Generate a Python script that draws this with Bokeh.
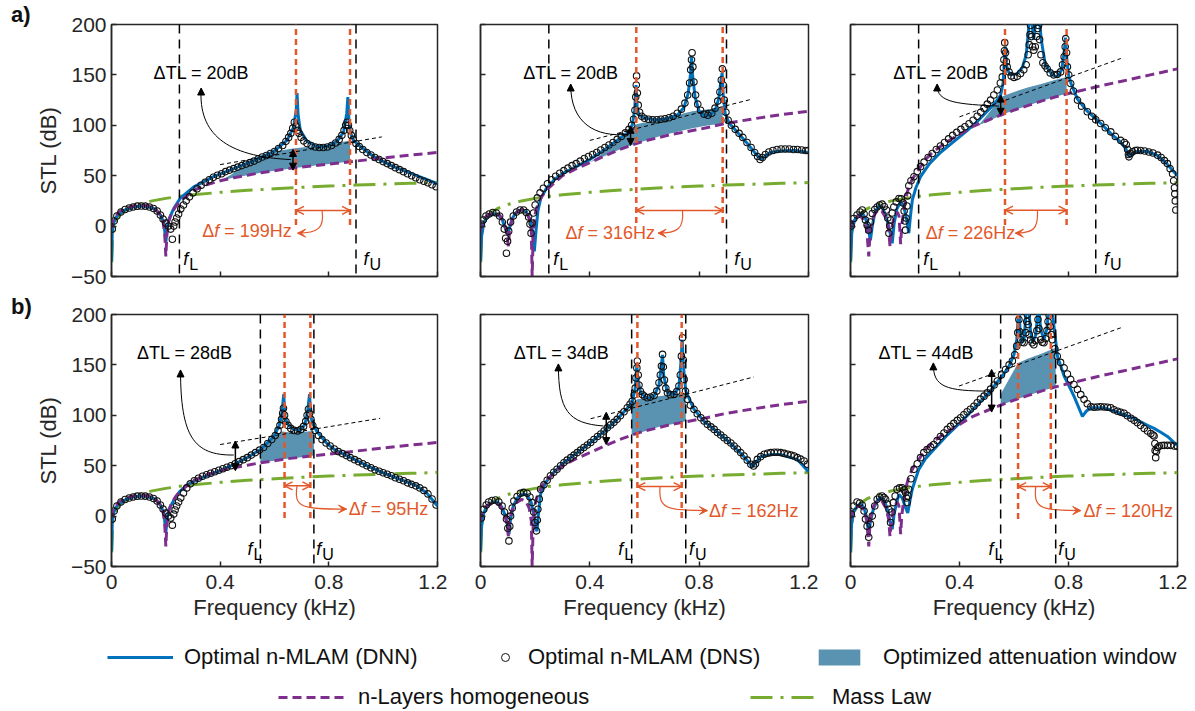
from bokeh.plotting import figure
from bokeh.layouts import column, row
from bokeh.models import (Range1d, FixedTicker, NumeralTickFormatter, Label, Arrow, Div,
                          NormalHead, OpenHead, VeeHead, Span, Legend, LegendItem)
from bokeh.embed import file_html
from bokeh.resources import INLINE

# ---------------------------------------------------------------- data
X_TICKS = [0, 0.4, 0.8, 1.2]
Y_TICKS = [-50, 0, 50, 100, 150, 200]

# mass law (shared by all panels)
MASS_LAW = [(0.001,-36),(0.004,-8),(0.008,-1),(0.015,5),(0.025,9.5),(0.04,13.5),(0.06,17),(0.08,19.5),
            (0.1,21.5),(0.15,25),(0.2,27.5),(0.25,29.5),(0.3,31),(0.4,33.5),(0.5,35.5),(0.6,37),(0.7,38.5),
            (0.8,39.7),(0.9,40.7),(1.0,41.6),(1.1,42.4),(1.2,43.2)]

# n-layers homogeneous (column 1, 2, 3)
HOMOG_1 = [(0.0,-2),(0.005,5),(0.015,10),(0.03,14.5),(0.05,17.5),(0.08,20),(0.11,21),(0.14,20),(0.16,17.5),
           (0.18,11),(0.19,4),(0.196,-8),(0.2,-30),(0.204,-8),(0.21,4),(0.22,12),(0.235,19),(0.25,24),(0.3,35),
           (0.35,41),(0.4,45),(0.45,48),(0.5,50.5),(0.55,53),(0.6,55),(0.65,57),(0.7,58.5),(0.8,61.5),(0.9,64.5),
           (1.0,67.5),(1.1,70.5),(1.2,73)]
HOMOG_2 = [(0.0,-5),(0.005,3),(0.015,8),(0.03,11.5),(0.05,13),(0.07,11),(0.085,4),(0.095,-5),(0.102,-20),
           (0.106,-5),(0.115,6),(0.13,13),(0.15,16.5),(0.165,15),(0.178,8),(0.186,-5),(0.189,-50),(0.193,-5),
           (0.2,12),(0.21,22),(0.225,30),(0.25,38),(0.3,50),(0.35,57),(0.4,63),(0.45,69),(0.5,75),(0.55,80),
           (0.6,84.5),(0.7,91),(0.8,96),(0.9,102),(1.0,106.5),(1.1,110.5),(1.2,114)]
HOMOG_3 = [(0.0,-3),(0.008,5),(0.02,9),(0.035,10),(0.05,6),(0.06,-5),(0.067,-30),(0.072,-5),(0.085,10),
           (0.1,16),(0.115,15),(0.13,8),(0.14,-3),(0.145,-20),(0.15,-5),(0.16,10),(0.172,14),(0.178,10),
           (0.184,-18),(0.188,0),(0.195,15),(0.205,30),(0.215,40),(0.23,48),(0.25,56),(0.275,66),(0.3,73),
           (0.35,83),(0.4,91),(0.45,99),(0.5,104.5),(0.55,110),(0.6,115),(0.65,119.5),(0.7,124),(0.75,128),
           (0.8,131.5),(0.9,138),(1.0,144),(1.1,150),(1.2,156)]

# optimal n-MLAM (DNN) lines
DNN_A1 = [(0.0,-35),(0.003,-5),(0.01,5),(0.02,10),(0.045,15.5),(0.08,19),(0.107,20),(0.13,19.5),(0.156,17.5),
          (0.18,11),(0.193,3),(0.2,-16),(0.205,-3),(0.21,6),(0.23,18),(0.254,28),(0.303,39),(0.376,49),(0.45,57),
          (0.523,65),(0.597,74),(0.646,85),(0.67,98),(0.68,115),(0.683,132),(0.687,110),(0.695,95),(0.72,84),
          (0.756,79),(0.793,79),(0.83,84),(0.854,93),(0.866,112),(0.870,128),(0.874,105),(0.879,93),(0.891,85),
          (0.916,79),(0.965,69),(1.038,59),(1.124,50),(1.2,42)]
DNN_A2 = [(0.0,-35),(0.004,-10),(0.012,3),(0.025,9),(0.045,12.5),(0.065,11.5),(0.08,6),(0.092,-3),(0.1,-8),
          (0.106,-2),(0.115,7),(0.13,13.5),(0.15,16.5),(0.168,14),(0.18,7),(0.19,-5),(0.197,-25),(0.203,-5),
          (0.21,15),(0.22,27),(0.24,37),(0.27,46),(0.3,52),(0.35,59),(0.4,66),(0.45,75),(0.5,85),(0.54,93),
          (0.555,100),(0.564,115),(0.569,140),(0.573,118),(0.58,110),(0.6,107),(0.64,105.5),(0.68,106.5),
          (0.72,110),(0.745,118),(0.76,132),(0.768,150),(0.772,168),(0.776,150),(0.785,128),(0.8,114),(0.82,109),
          (0.84,110),(0.86,116),(0.872,127),(0.88,145),(0.884,152),(0.888,130),(0.895,112),(0.91,102),(0.94,93),
          (0.97,84),(1.0,74),(1.025,66),(1.04,69),(1.06,73),(1.1,74.5),(1.15,75),(1.2,73)]
DNN_A3 = [(0.0,-35),(0.005,-5),(0.015,6),(0.03,11),(0.044,12.5),(0.055,8),(0.065,-2),(0.073,-14),(0.08,0),
          (0.09,14),(0.104,20.5),(0.118,18),(0.13,10),(0.142,-2),(0.153,-17),(0.16,2),(0.17,17),(0.184,24),
          (0.195,20),(0.205,8),(0.214,-7),(0.22,10),(0.227,26),(0.24,38),(0.257,49),(0.29,62),(0.33,73),(0.38,84),
          (0.429,95),(0.47,105),(0.502,114),(0.53,122),(0.551,130),(0.56,142),(0.565,165),(0.568,178),(0.572,160),
          (0.58,153),(0.59,150),(0.61,151),(0.63,157),(0.645,170),(0.655,200),(0.662,215),(0.672,185),(0.68,205),
          (0.69,215),(0.70,185),(0.715,160),(0.74,150),(0.76,148),(0.775,155),(0.785,175),(0.789,187),(0.794,165),
          (0.8,150),(0.81,141),(0.833,126),(0.869,114),(0.918,102),(0.955,92),(0.992,83),(1.01,77),(1.022,69),
          (1.035,72),(1.053,74),(1.09,74),(1.127,70),(1.16,62),(1.18,56),(1.2,50)]
DNN_B1 = [(0.0,-35),(0.003,-5),(0.01,5),(0.02,10),(0.045,15.5),(0.08,19),(0.107,20),(0.13,19.5),(0.156,17.5),
          (0.18,11),(0.193,3),(0.2,-16),(0.205,-3),(0.21,6),(0.23,16),(0.25,24),(0.278,31),(0.33,38),(0.389,44),
          (0.45,51),(0.5,58),(0.548,66),(0.597,79),(0.618,90),(0.628,104),(0.634,121),(0.638,100),(0.646,92),
          (0.67,86),(0.695,85),(0.712,91),(0.722,104),(0.729,121),(0.733,100),(0.74,92),(0.756,84),(0.79,73),
          (0.818,66.5),(0.88,58),(0.94,50),(1.0,43),(1.063,36.5),(1.124,30),(1.16,23),(1.2,10)]
DNN_B2 = [(0.0,-35),(0.004,-10),(0.012,3),(0.025,10),(0.045,14),(0.062,14),(0.078,9),(0.09,1),(0.098,-8),
          (0.104,-18),(0.11,-3),(0.12,10),(0.135,18),(0.155,22),(0.17,21),(0.185,14),(0.195,2),(0.202,-12),
          (0.207,-15),(0.212,2),(0.22,22),(0.24,34),(0.27,44),(0.305,53),(0.354,63),(0.403,73),(0.452,84),
          (0.5,96),(0.537,107),(0.555,113),(0.566,127),(0.572,150),(0.576,135),(0.586,122),(0.61,117),
          (0.635,119),(0.653,130),(0.662,150),(0.666,160),(0.67,140),(0.684,122),(0.708,120.5),(0.726,128),
          (0.734,155),(0.738,175),(0.742,150),(0.751,124),(0.781,106),(0.818,94),(0.855,86),(0.916,72),
          (0.964,59),(0.995,49),(1.025,59),(1.06,61),(1.099,61),(1.16,56),(1.2,44)]
DNN_B3 = [(0.0,-36),(0.004,-8),(0.012,5),(0.025,10),(0.037,12),(0.05,8),(0.06,-2),(0.067,-20),(0.073,-5),
          (0.085,8),(0.1,16),(0.11,18.5),(0.125,15),(0.137,5),(0.147,-8),(0.153,-13),(0.16,2),(0.17,14),
          (0.178,21.5),(0.19,18),(0.2,10),(0.21,3),(0.218,15),(0.227,27),(0.25,46),(0.275,57),(0.306,66),
          (0.35,79),(0.392,90),(0.43,100),(0.478,114),(0.51,123),(0.539,133),(0.565,142),(0.582,149),(0.6,160),
          (0.61,175),(0.615,195),(0.618,210),(0.622,185),(0.628,172),(0.637,175),(0.645,205),(0.652,215),
          (0.66,185),(0.668,172),(0.68,180),(0.69,210),(0.698,185),(0.71,175),(0.72,185),(0.73,210),(0.74,205),
          (0.748,185),(0.76,158),(0.784,139),(0.82,119),(0.851,99),(0.865,104),(0.882,107.5),(0.93,107.5),
          (0.98,103),(1.04,97),(1.09,90),(1.114,87),(1.14,83),(1.163,79),(1.2,70)]

# optimal n-MLAM (DNS) circles
DNS_A1 = [(0.003,-3),(0.01,5),(0.02,10),(0.035,14),(0.05,16.5),(0.065,18),(0.08,19),(0.095,19.8),(0.11,20),
          (0.125,19.8),(0.14,19),(0.155,17.5),(0.168,15),(0.18,11),(0.19,7),(0.2,3),(0.21,0),(0.218,-3),
          (0.224,-13),(0.229,0),(0.234,4),(0.24,8),(0.247,12),(0.255,17),(0.265,21),(0.275,25),(0.287,29),
          (0.3,33),(0.315,37),(0.33,40.5),(0.345,43.5),(0.36,46),(0.375,48.5),(0.39,50.5),(0.405,52),(0.42,54),
          (0.435,55.5),(0.45,57),(0.465,58.5),(0.48,60),(0.495,61.5),(0.51,63),(0.525,64.5),(0.54,66.5),
          (0.555,68.5),(0.57,70),(0.585,72),(0.6,74),(0.615,77),(0.63,80),(0.642,84),(0.652,88),(0.66,92),
          (0.667,97),(0.673,103),(0.679,99),(0.685,95),(0.69,92),(0.698,88),(0.708,84.5),(0.72,82),(0.735,80),
          (0.75,78.5),(0.765,78),(0.78,78),(0.795,78.5),(0.81,80),(0.825,82.5),(0.838,86),(0.848,90),(0.856,95),
          (0.862,100),(0.867,103),(0.872,100),(0.877,95),(0.883,90),(0.89,86),(0.9,82),(0.912,79),(0.925,76),
          (0.94,73),(0.955,70.5),(0.97,68),(0.985,66),(1.0,64),(1.015,62),(1.03,60),(1.045,58),(1.06,56),
          (1.075,54),(1.09,52),(1.105,50),(1.12,48),(1.135,46),(1.15,44.5),(1.165,43),(1.18,41),(1.195,39)]
DNS_A2 = [(0.003,2),(0.01,6),(0.02,10),(0.032,12),(0.045,13.5),(0.058,13),(0.07,10),(0.08,4),(0.087,-3),
          (0.092,-12),(0.095,-27),(0.099,-15),(0.103,-5),(0.11,4),(0.12,10),(0.132,14),(0.145,16),(0.158,16),
          (0.168,13.5),(0.176,9),(0.181,2),(0.185,-7),(0.189,3),(0.194,13),(0.2,21),(0.208,28),(0.218,33),
          (0.23,37.5),(0.245,42),(0.26,46),(0.275,49.5),(0.29,52.5),(0.305,55),(0.32,57.5),(0.335,60),
          (0.35,62),(0.365,64.5),(0.38,67),(0.395,69),(0.41,71),(0.425,73),(0.44,75.5),(0.455,78),(0.47,80.5),
          (0.485,83),(0.5,86),(0.515,89),(0.53,92.5),(0.543,96),(0.553,100),(0.56,106),(0.565,115),(0.568,128),
          (0.57,140),(0.571,149),(0.574,132),(0.577,120),(0.582,113),(0.59,109),(0.6,107),(0.615,106),
          (0.63,105.5),(0.645,105.5),(0.66,106),(0.675,106.5),(0.69,107.5),(0.705,109),(0.72,112),(0.735,116),
          (0.748,122),(0.758,130),(0.765,142),(0.769,155),(0.772,165),(0.774,172),(0.777,158),(0.781,143),
          (0.787,130),(0.795,121),(0.805,115),(0.818,111),(0.832,110),(0.846,112),(0.858,117),(0.868,124),
          (0.876,133),(0.881,145),(0.885,156),(0.888,140),(0.892,125),(0.898,113),(0.906,105),(0.918,100),
          (0.932,96),(0.946,92),(0.96,88),(0.975,83),(0.99,78),(1.003,73),(1.014,69),(1.023,66),(1.032,68),
          (1.042,71),(1.055,73.5),(1.07,75),(1.085,76),(1.1,76.5),(1.115,76.5),(1.13,76.5),(1.145,76),
          (1.16,76),(1.175,75.5),(1.19,75),(1.2,75)]
DNS_A3 = [(0.003,0),(0.012,7.5),(0.024,11),(0.035,14),(0.043,16),(0.05,12),(0.055,6),(0.061,1),(0.067,-4),
          (0.073,4),(0.08,12.5),(0.089,16.5),(0.098,19),(0.107,21),(0.116,21.8),(0.124,19.5),(0.132,16),
          (0.137,8),(0.141,-7),(0.144,0),(0.147,6),(0.153,13),(0.159,19),(0.168,24),(0.178,27.4),(0.186,27),
          (0.193,23),(0.197,15),(0.2,5),(0.202,-4),(0.204,8),(0.207,20),(0.21,30),(0.214,40),(0.222,45),
          (0.233,49),(0.245,54),(0.257,59),(0.27,63.5),(0.285,68),(0.3,72),(0.315,76),(0.33,79.5),(0.345,83),
          (0.36,86.5),(0.375,90),(0.39,93),(0.405,96),(0.42,98.5),(0.435,101.5),(0.45,105),(0.465,109),
          (0.478,113),(0.49,117),(0.502,121),(0.514,125),(0.526,130),(0.539,135),(0.55,142),(0.557,148),
          (0.561,157),(0.563,165),(0.565,174),(0.566,182),(0.569,172),(0.572,163),(0.575,158),(0.582,153),
          (0.59,149),(0.6,147.5),(0.612,148.5),(0.624,151.4),(0.636,155),(0.645,160),(0.652,170),(0.656,180),
          (0.659,190),(0.661,199),(0.664,188),(0.668,178),(0.673,174.5),(0.678,178),(0.683,188),(0.687,196),
          (0.69,199),(0.694,185),(0.699,170),(0.706,162),(0.714,159),(0.722,156),(0.733,152),(0.747,150),
          (0.76,150.5),(0.771,153),(0.778,160),(0.784,168),(0.788,178),(0.79,186),(0.793,172),(0.796,158),
          (0.801,150),(0.808,141.5),(0.818,134),(0.833,125),(0.848,119),(0.869,113.4),(0.885,109),(0.9,105.5),
          (0.918,101.8),(0.935,97.5),(0.955,93.5),(0.972,89),(0.992,85),(1.005,83),(1.012,81),(1.017,76),
          (1.02,71),(1.022,68.7),(1.028,72),(1.035,73.7),(1.045,75),(1.053,75.3),(1.065,75),(1.08,74.5),
          (1.095,73.5),(1.11,72.5),(1.127,70.4),(1.14,68),(1.152,65),(1.163,62),(1.173,57),(1.182,52),
          (1.186,45),(1.189,38),(1.19,32),(1.192,25),(1.194,16)]
DNS_B1 = [(0.003,-3),(0.01,5),(0.02,10),(0.035,14),(0.05,16.5),(0.065,18),(0.08,19),(0.095,19.8),(0.11,20),
          (0.125,19.8),(0.14,19),(0.155,17.5),(0.168,15),(0.18,11),(0.19,7),(0.2,3),(0.21,0),(0.218,-2),
          (0.224,-9),(0.229,2),(0.234,6),(0.24,10),(0.247,14),(0.255,18),(0.265,23),(0.277,28),(0.29,32),
          (0.305,35),(0.32,37.5),(0.335,39.5),(0.35,41),(0.365,42.5),(0.38,44),(0.395,45.5),(0.41,47),
          (0.425,48.5),(0.44,50),(0.455,52),(0.47,54),(0.485,56),(0.5,58),(0.515,60.5),(0.53,63),(0.545,65.5),
          (0.56,68),(0.575,72),(0.59,76),(0.603,80),(0.613,85),(0.62,90),(0.626,96),(0.63,102),(0.633,107),
          (0.637,100),(0.642,94),(0.65,90),(0.66,87),(0.672,85),(0.685,84.5),(0.697,86),(0.707,89),(0.715,94),
          (0.72,100),(0.725,106),(0.729,102),(0.734,96),(0.741,90),(0.75,85),(0.762,80),(0.775,76),(0.79,72.5),
          (0.805,69.5),(0.82,66.5),(0.835,64),(0.85,62),(0.865,60),(0.88,58),(0.895,56),(0.91,54),(0.925,52),
          (0.94,50),(0.955,48),(0.97,46),(0.985,44.5),(1.0,43),(1.015,41.5),(1.03,40),(1.045,38),(1.06,36.5),
          (1.075,35),(1.09,33),(1.105,31.5),(1.12,30),(1.135,28),(1.15,25.5),(1.165,22),(1.18,17),(1.195,11)]
DNS_B2 = [(0.003,-2),(0.012,6.8),(0.021,11),(0.03,14),(0.042,15.5),(0.055,16),(0.067,14),(0.079,10),(0.088,4),
          (0.095,-3),(0.1,-12),(0.104,-24.6),(0.107,-10),(0.11,0),(0.116,8),(0.122,15),(0.134,19.5),
          (0.146,22.6),(0.158,23.5),(0.171,22.6),(0.181,19),(0.189,13.4),(0.195,4),(0.199,-6.4),(0.205,-14.7),
          (0.208,-4),(0.21,6.8),(0.215,17),(0.22,26.6),(0.232,31),(0.244,35.5),(0.256,40),(0.268,43.5),
          (0.28,46.5),(0.293,50),(0.305,53),(0.317,55.5),(0.33,58),(0.342,60.5),(0.354,63),(0.366,65.5),
          (0.378,68),(0.391,70.5),(0.403,73),(0.415,76),(0.428,79),(0.44,81.5),(0.452,84.4),(0.464,87.5),
          (0.476,90.5),(0.488,93),(0.5,96),(0.512,99.5),(0.525,103.5),(0.537,107.5),(0.547,111),(0.555,114),
          (0.562,120),(0.566,127),(0.569,137),(0.572,147),(0.574,153.8),(0.577,140),(0.58,130),(0.585,124),
          (0.592,120.7),(0.6,119),(0.61,117.4),(0.622,118),(0.635,119.7),(0.645,124),(0.653,132.3),(0.658,140),
          (0.662,148.8),(0.666,160.4),(0.669,148),(0.673,135),(0.678,127),(0.684,122.4),(0.695,120.5),
          (0.708,120.7),(0.718,123.5),(0.726,129),(0.731,140),(0.735,158.7),(0.739,176.9),(0.742,155),
          (0.745,135.6),(0.75,124),(0.757,115.8),(0.768,110),(0.781,105.9),(0.793,101.5),(0.806,97.5),
          (0.818,94.3),(0.83,91),(0.843,88.5),(0.855,86),(0.867,83),(0.879,80.5),(0.891,77.8),(0.903,75),
          (0.916,72.5),(0.928,69.6),(0.94,66.5),(0.952,63),(0.964,59.6),(0.976,55.5),(0.989,51.4),(0.999,49.7),
          (1.006,52),(1.013,56.3),(1.025,59),(1.038,61.3),(1.05,62.3),(1.062,63),(1.075,63.3),(1.087,63.3),
          (1.099,63),(1.111,62.2),(1.124,61.3),(1.136,60.5),(1.148,59.6),(1.16,58),(1.172,56.5),(1.184,54.7),
          (1.196,51.4)]
DNS_B3 = [(0.003,2),(0.012,10),(0.024,14),(0.034,13),(0.043,10.8),(0.05,5),(0.055,-3),(0.061,-10),(0.067,-21),
          (0.073,-8),(0.08,0),(0.089,10),(0.098,16.7),(0.107,19),(0.116,20),(0.123,18.5),(0.129,16.7),
          (0.135,12),(0.141,6.8),(0.147,-6.4),(0.152,4),(0.157,13.4),(0.164,20),(0.171,26.6),(0.18,28),
          (0.19,28),(0.197,26),(0.202,23.3),(0.205,18),(0.208,13.4),(0.211,20),(0.214,26.6),(0.222,37),
          (0.233,46.4),(0.245,52),(0.257,58),(0.269,63),(0.281,66),(0.294,68.5),(0.306,71),(0.318,75),
          (0.33,79),(0.343,82.5),(0.355,86),(0.367,89),(0.379,92),(0.392,95),(0.404,97.6),(0.416,100.5),
          (0.428,103.5),(0.44,106),(0.453,109),(0.465,112.5),(0.477,116),(0.49,119),(0.502,122.4),(0.514,126),
          (0.527,130),(0.539,134),(0.554,140),(0.569,145.5),(0.582,150),(0.594,153.8),(0.603,160),(0.61,168.6),
          (0.614,182),(0.618,195),(0.621,183),(0.624,175),(0.63,172.5),(0.637,172),(0.643,182),(0.647,193),
          (0.649,200),(0.652,190),(0.656,180),(0.661,175),(0.667,172),(0.673,170),(0.679,174),(0.684,184),
          (0.688,195),(0.692,186),(0.698,175),(0.704,172.5),(0.71,172),(0.716,176),(0.721,184),(0.725,193),
          (0.729,199),(0.733,188),(0.737,180),(0.741,175),(0.75,166),(0.759,158.7),(0.771,152.5),(0.784,147),
          (0.796,141),(0.808,135.6),(0.82,130.5),(0.833,125.7),(0.845,120.5),(0.857,115.8),(0.869,111.5),
          (0.882,108.5),(0.894,108),(0.906,108.3),(0.918,108.5),(0.931,108.3),(0.943,108),(0.955,107.5),
          (0.967,105.5),(0.98,104),(0.992,103),(1.004,102),(1.016,99.5),(1.029,97),(1.041,95),(1.053,92.7),
          (1.065,90),(1.078,87),(1.09,84.4),(1.102,82),(1.11,80.5),(1.114,79.5),(1.117,72),(1.118,65),
          (1.12,58),(1.123,64),(1.127,68),(1.133,69.6),(1.142,70),(1.151,70.2),(1.163,70.2),(1.175,70.2),
          (1.188,69.6),(1.2,69)]

# optimized attenuation window: (frequency, lower STL, upper STL)
WIN_A1 = [(0.40,45,45),(0.44,47.5,51),(0.47,49,57),(0.52,51.5,64),(0.56,53.5,69),(0.6,55,74),(0.668,57.5,77),
          (0.75,60,79.5),(0.8,61.5,81),(0.878,64,85)]
WIN_A2 = [(0.40,63,63),(0.45,69,73),(0.5,75,82),(0.549,80,95),(0.57,82,101),(0.67,90.5,107),(0.775,97,114),
          (0.835,100,116),(0.886,101.5,118)]
WIN_A3 = [(0.47,100,100),(0.51,104.5,113),(0.551,110,128),(0.6,115,133),(0.65,119.5,137.5),(0.7,124,141),
          (0.75,128,145),(0.793,131.5,148)]
WIN_B1 = [(0.548,53,68),(0.57,54,73),(0.6,55,80),(0.63,56.5,84),(0.66,57.5,83),(0.7,58.5,83.5),(0.745,60,84.5)]
WIN_B2 = [(0.553,80.5,112),(0.574,82,116),(0.61,85,117.5),(0.65,88.5,119),(0.7,91,120.5),(0.751,94,122)]
WIN_B3 = [(0.551,110,121),(0.58,113,135),(0.615,116.5,152),(0.65,119.5,156),(0.7,124,161),(0.753,128,167)]

# window limits and annotation values, panels a1 a2 a3 b1 b2 b3
F_LOWER = [0.25, 0.25, 0.25, 0.548, 0.553, 0.551]
F_UPPER = [0.90, 0.90, 0.90, 0.745, 0.751, 0.753]
F_OPT_LO = [0.679, 0.570, 0.567, 0.637, 0.574, 0.615]
F_OPT_HI = [0.878, 0.886, 0.793, 0.732, 0.736, 0.735]
DELTA_TL = ["ΔTL = 20dB", "ΔTL = 20dB", "ΔTL = 20dB", "ΔTL = 28dB", "ΔTL = 34dB", "ΔTL = 44dB"]
DELTA_F = ["= 199Hz", "= 316Hz", "= 226Hz", "= 95Hz", "= 162Hz", "= 120Hz"]

# ---------------------------------------------------------------- layout / style
FONT = "Liberation Sans"
INK = "#262626"
BLUE = "#0072BD"
PURPLE = "#7E2F8E"
GREEN = "#77AC30"
ORANGE = "#E2582A"
SHADE = "#5A93B2"

ORANGE_BOTTOM = [1, 3, 1, -2, -2, -3]
DF_ARROW_Y = [15.6, 15.6, 15.8, 30, 29.3, 29.3]
DTL_POS = [(0.155, 152), (0.156, 152), (0.157, 151.5), (0.094, 161.4), (0.122, 161.4), (0.103, 161.4)]
DF_POS = [(0.334, -5), (0.311, -7), (0.276, -7), (0.873, 7), (0.836, 5), (0.855, 5)]
TANGENT = [(0.40, 61, 0.995, 88.5), (0.40, 85, 0.994, 126), (0.40, 108.4, 0.992, 166.3),
           (0.40, 71, 0.989, 97), (0.403, 96.6, 1.0, 138), (0.398, 129, 0.992, 186.8)]
VARROW = [(0.668, 55.5, 76), (0.549, 80, 99), (0.551, 110, 130), (0.456, 45, 74.5), (0.46, 71, 103),
          (0.518, 103.2, 145.5)]
BLACK_CURVE = [(0.66, 66, 0.42, 69, 0.32, 92, 0.33, 136), (0.54, 91, 0.42, 88, 0.33, 102, 0.33, 140),
               (0.545, 119, 0.40, 121, 0.315, 122, 0.318, 140), (0.45, 60.6, 0.30, 60, 0.255, 80, 0.254, 144),
               (0.45, 89.4, 0.32, 92, 0.285, 105, 0.285, 150), (0.514, 124, 0.35, 124, 0.303, 128, 0.304, 151)]
ORANGE_CURVE = [(0.775, 15.6, 0.785, -2, 0.76, -7, 0.685, -7), (0.739, 15.6, 0.745, -3, 0.72, -7, 0.65, -7),
                (0.686, 15.8, 0.69, -3, 0.67, -7, 0.605, -7), (0.683, 30, 0.67, 8, 0.70, 7, 0.865, 7),
                (0.657, 29.3, 0.65, 7, 0.68, 5.5, 0.83, 5.5), (0.68, 29.3, 0.67, 7, 0.70, 5.5, 0.845, 5.5)]
FL_LAB = [0.264, 0.266, 0.267, 0.501, 0.504, 0.506]
FU_LAB = [0.928, 0.928, 0.93, 0.754, 0.763, 0.762]
SUB_Y = -33

DNN = [DNN_A1, DNN_A2, DNN_A3, DNN_B1, DNN_B2, DNN_B3]
DNS = [DNS_A1, DNS_A2, DNS_A3, DNS_B1, DNS_B2, DNS_B3]
HOMOG = [HOMOG_1, HOMOG_2, HOMOG_3, HOMOG_1, HOMOG_2, HOMOG_3]
WIN = [WIN_A1, WIN_A2, WIN_A3, WIN_B1, WIN_B2, WIN_B3]

FRAME_W = [326, 328, 327]
BORDER_L = [79, 33, 32]
BORDER_R = 10
TAG_W = 32


def cols(pts, k):
    return [p[k] for p in pts]


def style_axis(ax, ticks, show_labels, standoff):
    ax.axis_line_color = INK
    ax.axis_line_width = 1.5
    ax.major_tick_in = 5
    ax.major_tick_out = 0
    ax.major_tick_line_color = INK
    ax.major_tick_line_width = 1.5
    ax.minor_tick_line_color = None
    ax.major_label_text_font = FONT
    ax.major_label_text_color = INK
    ax.major_label_text_font_size = "21px"
    ax.axis_label_text_font = FONT
    ax.axis_label_text_font_size = "22px"
    ax.axis_label_text_font_style = "normal"
    ax.axis_label_text_color = INK
    if show_labels:
        ax.major_label_standoff = standoff
    else:
        ax.major_label_overrides = {t: "" for t in ticks}
        ax.major_label_standoff = 0


def make_panel(i, col, top, bottom):
    p = figure(frame_width=FRAME_W[col], frame_height=252,
               x_range=Range1d(0, 1.2), y_range=Range1d(-50, 200),
               output_backend="svg", toolbar_location=None,
               min_border_left=BORDER_L[col], min_border_right=BORDER_R,
               min_border_top=top, min_border_bottom=bottom,
               background_fill_color="white", border_fill_color="white")
    p.grid.visible = False
    p.outline_line_color = INK
    p.outline_line_width = 1.5
    p.xaxis.ticker = FixedTicker(ticks=X_TICKS)
    p.yaxis.ticker = FixedTicker(ticks=Y_TICKS)
    p.xaxis.formatter = NumeralTickFormatter(format="0.[0]")
    bottom_row = i >= 3
    style_axis(p.xaxis[0], X_TICKS, bottom_row, 8)
    style_axis(p.yaxis[0], Y_TICKS, col == 0, 5)
    if col == 0:
        p.yaxis.axis_label = "STL (dB)"
        p.yaxis.axis_label_standoff = 7
    if bottom_row:
        p.xaxis.axis_label = "Frequency (kHz)"
        p.xaxis.axis_label_standoff = 3

    w = WIN[i]
    p.varea(x=cols(w, 0), y1=cols(w, 1), y2=cols(w, 2), fill_color=SHADE, fill_alpha=1.0)
    p.line(cols(MASS_LAW, 0), cols(MASS_LAW, 1), line_color=GREEN, line_width=3, line_dash="22 8 3 8")
    p.line(cols(DNN[i], 0), cols(DNN[i], 1), line_color=BLUE, line_width=3)
    p.line(cols(HOMOG[i], 0), cols(HOMOG[i], 1), line_color=PURPLE, line_width=3, line_dash="9 5")
    p.scatter(cols(DNS[i], 0), cols(DNS[i], 1), marker="circle", size=6.5,
              line_color="#111111", line_width=1.1, fill_color=None)

    for f in (F_LOWER[i], F_UPPER[i]):
        p.add_layout(Span(location=f, dimension="height", line_color="black",
                          line_width=1.5, line_dash="9 6"))
    ob = ORANGE_BOTTOM[i]
    p.segment(x0=[F_OPT_LO[i], F_OPT_HI[i]], y0=[ob, ob], x1=[F_OPT_LO[i], F_OPT_HI[i]], y1=[200, 200],
              line_color=ORANGE, line_width=2.5, line_dash="6 4")
    t = TANGENT[i]
    p.segment(x0=[t[0]], y0=[t[1]], x1=[t[2]], y1=[t[3]], line_color="black", line_width=1, line_dash="4 3")
    v = VARROW[i]
    p.add_layout(Arrow(start=NormalHead(size=7, fill_color="black", line_color="black"),
                       end=NormalHead(size=7, fill_color="black", line_color="black"),
                       x_start=v[0], y_start=v[1], x_end=v[0], y_end=v[2],
                       line_color="black", line_width=1.5))
    c = BLACK_CURVE[i]
    p.bezier(x0=[c[0]], y0=[c[1]], cx0=[c[2]], cy0=[c[3]], cx1=[c[4]], cy1=[c[5]], x1=[c[6]], y1=[c[7]],
             line_color="black", line_width=1)
    p.add_layout(Arrow(end=NormalHead(size=7, fill_color="black", line_color="black"),
                       x_start=c[6], y_start=c[7] - 4, x_end=c[6], y_end=c[7] + 1,
                       line_color="black", line_width=1))
    ya = DF_ARROW_Y[i]
    p.add_layout(Arrow(start=OpenHead(size=8, line_color=ORANGE, line_width=1.5),
                       end=OpenHead(size=8, line_color=ORANGE, line_width=1.5),
                       x_start=F_OPT_LO[i], y_start=ya, x_end=F_OPT_HI[i], y_end=ya,
                       line_color=ORANGE, line_width=1.5))
    o = ORANGE_CURVE[i]
    p.bezier(x0=[o[0]], y0=[o[1]], cx0=[o[2]], cy0=[o[3]], cx1=[o[4]], cy1=[o[5]], x1=[o[6]], y1=[o[7]],
             line_color=ORANGE, line_width=1.2)
    dx = 0.015 if o[6] < o[0] else -0.015
    p.add_layout(Arrow(end=VeeHead(size=8, fill_color=ORANGE, line_color=ORANGE),
                       x_start=o[6] + dx, y_start=o[7], x_end=o[6], y_end=o[7],
                       line_color=ORANGE, line_width=1.2))

    tx, ty = DTL_POS[i]
    p.add_layout(Label(x=tx, y=ty, text=DELTA_TL[i], text_font=FONT, text_font_size="18px",
                       text_color="black", text_baseline="middle", text_align="left"))
    fx, fy = DF_POS[i]
    p.add_layout(Label(x=fx, y=fy, text="Δ", text_font=FONT, text_font_size="18px",
                       text_color=ORANGE, text_baseline="middle"))
    p.add_layout(Label(x=fx, y=fy, x_offset=12, text="f", text_font=FONT, text_font_size="18px",
                       text_font_style="italic", text_color=ORANGE, text_baseline="middle"))
    p.add_layout(Label(x=fx, y=fy, x_offset=22, text=DELTA_F[i], text_font=FONT, text_font_size="18px",
                       text_color=ORANGE, text_baseline="middle"))
    for lx, sub in ((FL_LAB[i], "L"), (FU_LAB[i], "U")):
        p.add_layout(Label(x=lx, y=SUB_Y, text="f", text_font=FONT, text_font_size="18px",
                           text_font_style="italic", text_color="black", text_baseline="middle"))
        p.add_layout(Label(x=lx, y=SUB_Y, x_offset=6, y_offset=-5, text=sub, text_font=FONT,
                           text_font_size="16px", text_color="black", text_baseline="middle"))
    return p


def tag_div(text, height, top):
    html = ('<div style="font-family:\'Liberation Sans\';font-size:22px;font-weight:bold;'
            'line-height:22px;padding-left:11px;position:relative;top:%dpx;white-space:nowrap;'
            'color:#111111;">%s</div>' % (top, text))
    return Div(text=html, width=TAG_W, height=height, margin=0)


row_a = [make_panel(k, k, 24, 10) for k in range(3)]
row_b = [make_panel(3 + k, k, 28, 55) for k in range(3)]

# legend strip (renderers reuse chart data, kept outside the visible range)
lp = figure(frame_width=1187, frame_height=89, x_range=Range1d(10, 11), y_range=Range1d(1000, 1001),
            x_axis_type=None, y_axis_type=None, output_backend="svg", toolbar_location=None,
            min_border_left=0, min_border_right=0, min_border_top=0, min_border_bottom=0,
            outline_line_color=None)
r_dnn = lp.line(cols(DNN_A1, 0), cols(DNN_A1, 1), line_color=BLUE, line_width=3)
r_dns = lp.scatter(cols(DNS_A1, 0), cols(DNS_A1, 1), marker="circle", size=8, line_color="#111111",
                   line_width=1, fill_color=None)
r_win = lp.varea(x=cols(WIN_A1, 0), y1=cols(WIN_A1, 1), y2=cols(WIN_A1, 2), fill_color=SHADE)
r_hom = lp.line(cols(HOMOG_1, 0), cols(HOMOG_1, 1), line_color=PURPLE, line_width=3, line_dash="9 5")
r_ml = lp.line(cols(MASS_LAW, 0), cols(MASS_LAW, 1), line_color=GREEN, line_width=3, line_dash="22 8 3 8")


def add_leg(r, label, x, y, gw, gh, standoff):
    lg = Legend(items=[LegendItem(label=label, renderers=[r])], location=(x, y),
                orientation="horizontal", glyph_width=gw, glyph_height=gh, label_standoff=standoff,
                padding=0, margin=0, spacing=0, label_height=24,
                label_text_font=FONT, label_text_font_size="22px", label_text_color="#111111",
                border_line_alpha=0, background_fill_alpha=0)
    lp.add_layout(lg)


add_leg(r_dnn, "Optimal n-MLAM (DNN)", 107, 41, 66, 24, 11)
add_leg(r_dns, "Optimal n-MLAM (DNS)", 495, 41, 20, 24, 13)
add_leg(r_win, "Optimized attenuation window", 813, 41, 52, 20, 18)
add_leg(r_hom, "n-Layers homogeneous", 278, 1, 67, 24, 13)
add_leg(r_ml, "Mass Law", 750, 1, 70, 24, 12)

layout = column(row(tag_div("a)", 286, 4), *row_a),
                row(tag_div("b)", 335, 10), *row_b),
                lp)
open("out.html", "w").write(file_html(layout, INLINE))
